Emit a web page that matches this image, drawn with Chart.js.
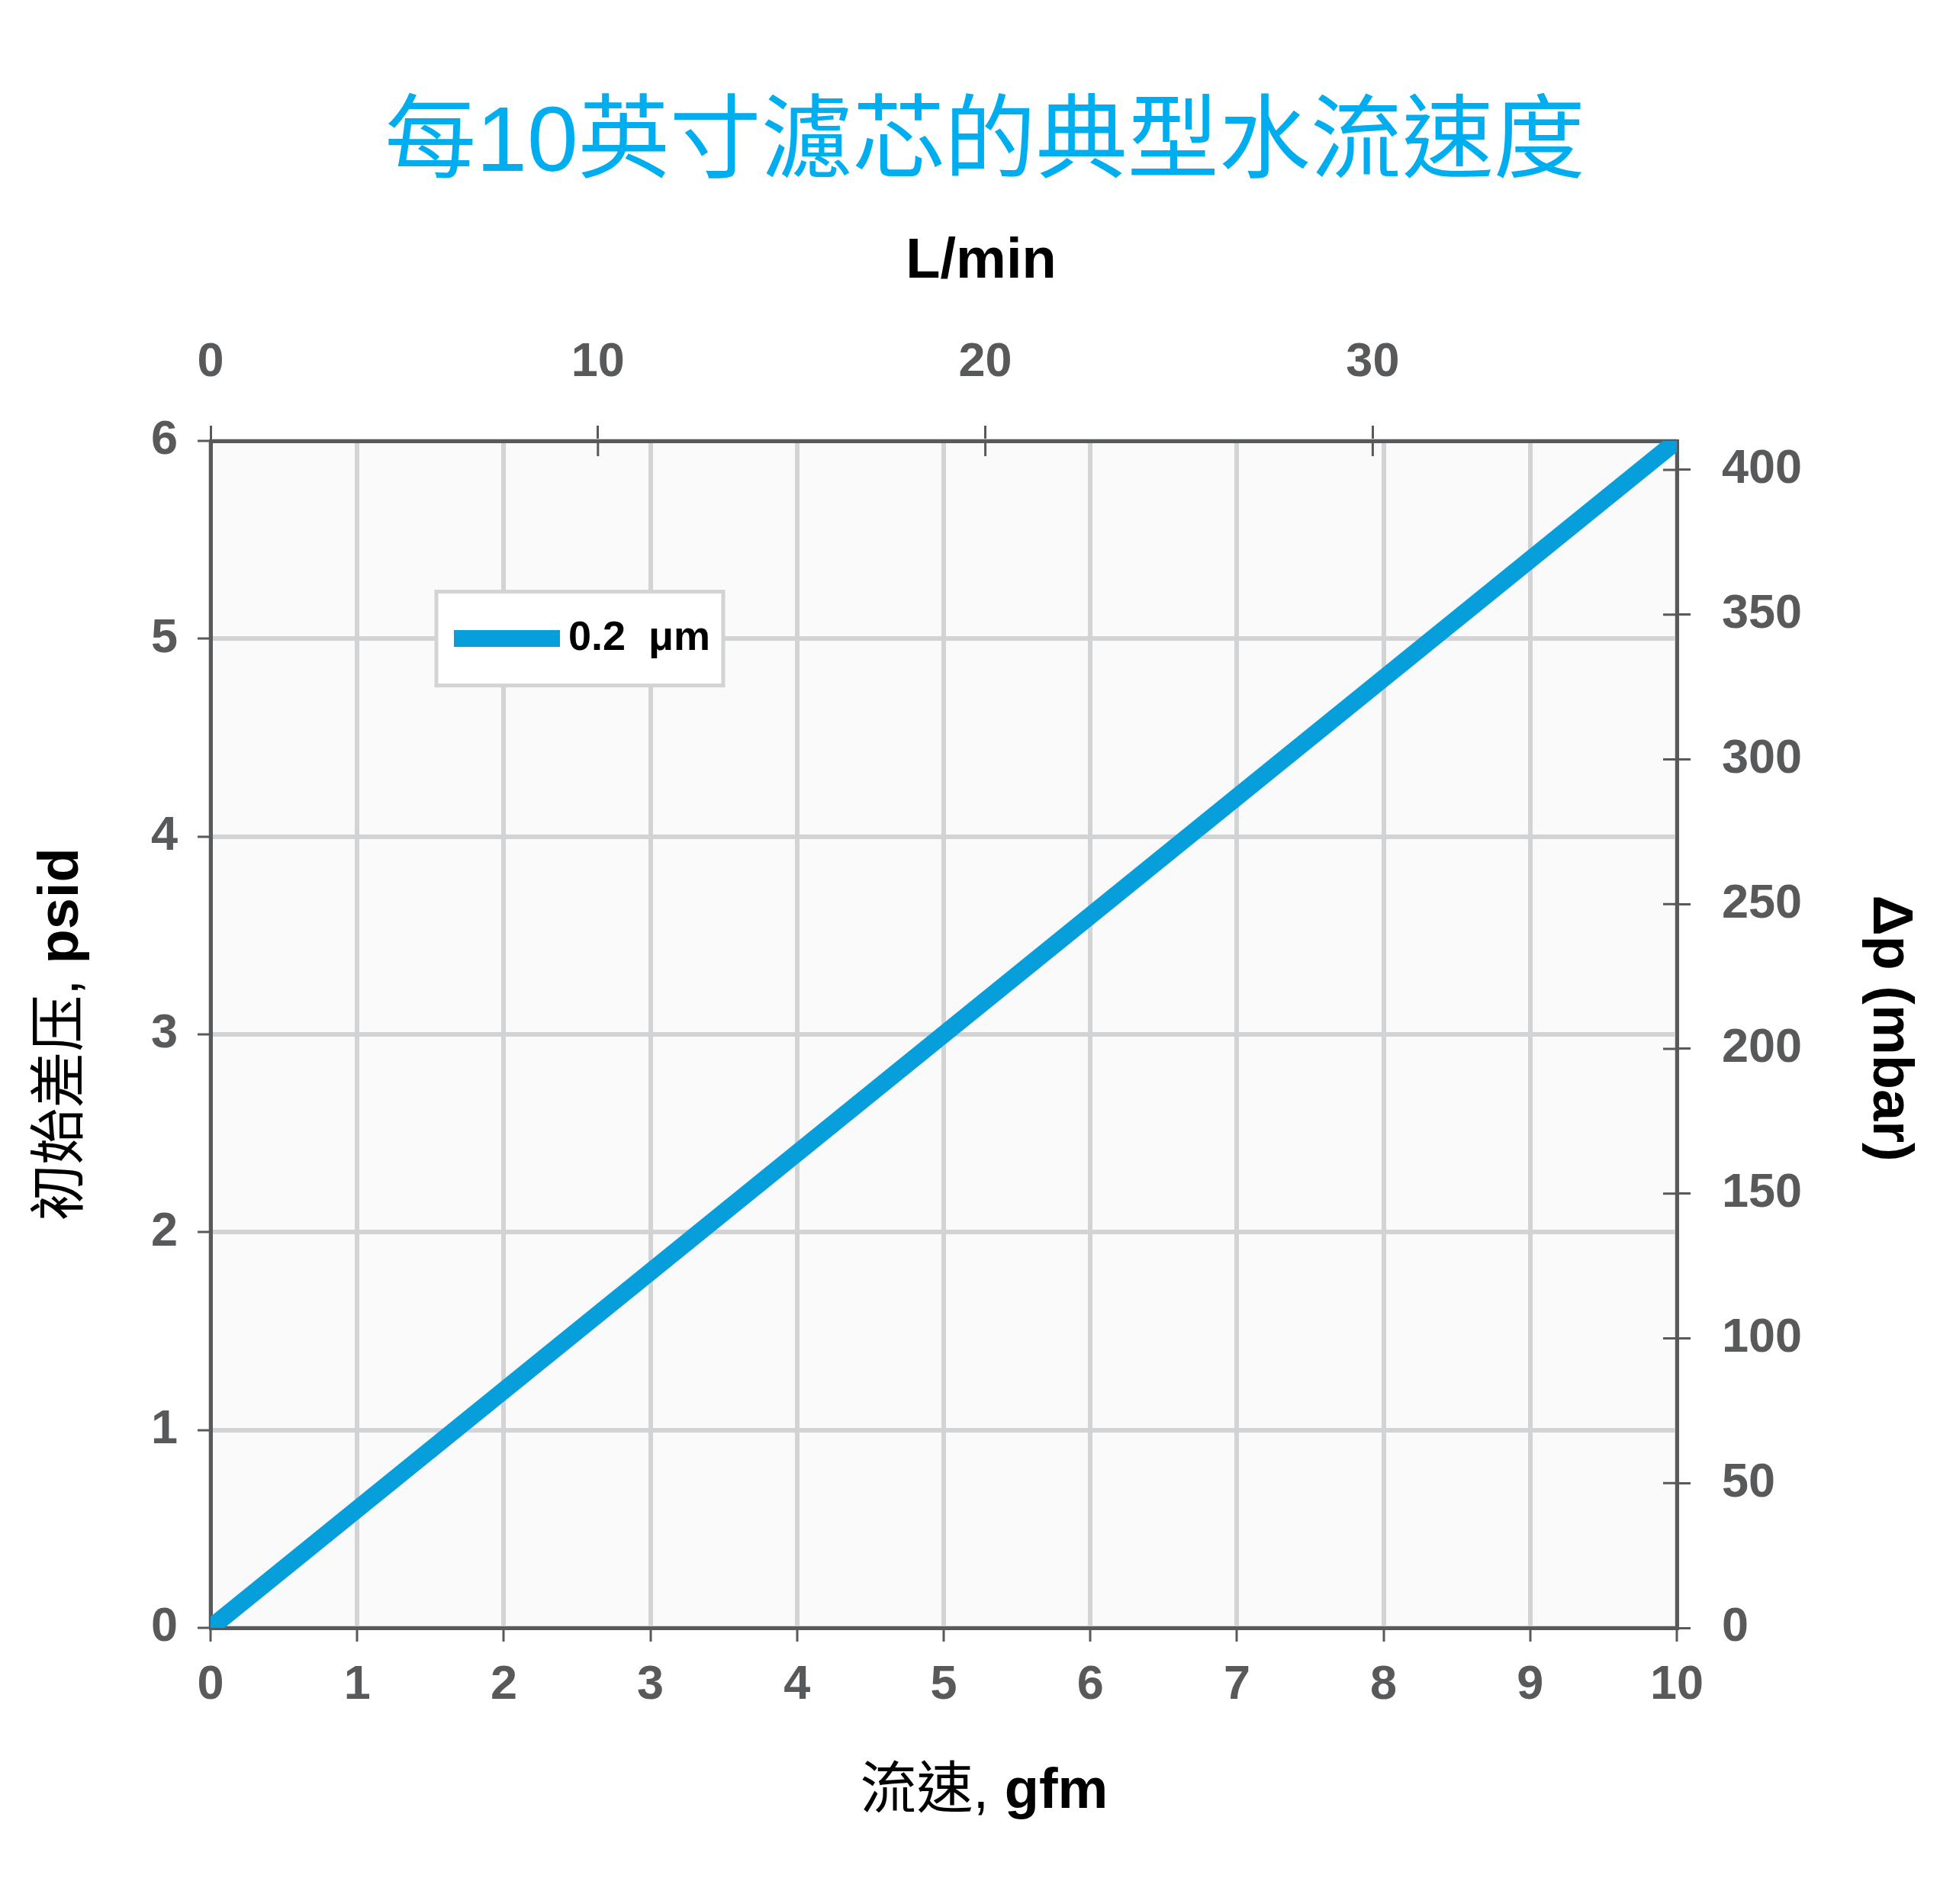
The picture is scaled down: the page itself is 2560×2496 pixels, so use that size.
<!DOCTYPE html>
<html>
<head>
<meta charset="utf-8">
<title>每10英寸濾芯的典型水流速度</title>
<script src="https://cdn.jsdelivr.net/npm/chart.js@4.4.1/dist/chart.umd.min.js"></script>
<style>
  html, body { margin: 0; padding: 0; background: #fff; }
  #wrap { width: 2560px; height: 2496px; }
</style>
</head>
<body>
<div id="wrap"><canvas id="chart"></canvas></div>
<script>
// data
const flowGfm = [0, 10];
const pressurePsid = [0, 6];
const seriesLabel = "0.2  μm";

// axis ticks
const gfmTicks = [0, 1, 2, 3, 4, 5, 6, 7, 8, 9, 10];
const psidTicks = [0, 1, 2, 3, 4, 5, 6];
const lpmTicks = [0, 10, 20, 30];
const mbarTicks = [0, 50, 100, 150, 200, 250, 300, 350, 400];
const lpmMax = 37.85;  // 10 gfm in L/min
const mbarMax = 410;   // right axis value at 6 psid, as drawn

const fontFamily = '"Liberation Sans", "Noto Sans CJK TC", Arial, sans-serif';
const gray = "#58595b";
const gridGray = "#d1d3d4";
const blue = "#069fdb";

const tickFont = { family: fontFamily, size: 63, weight: "bold" };

// axis titles: Chinese part regular, units bold
const topTitle = [["L/min", "bold"]];
const bottomTitle = [["流速,", "normal"], [" gfm", "bold"]];
const leftTitle = [["初始差压,", "normal"], [" psid", "bold"]];
const rightTitle = [["Δp (mbar)", "bold"]];

const points = flowGfm.map((x, i) => ({ x: x, y: pressurePsid[i] }));

const setTicks = (values) => (scale) => {
    scale.ticks = values.map(v => ({ value: v }));
};

// light plot background
const plotBackground = {
    id: "plotBackground",
    beforeDraw(chart) {
        const { ctx, chartArea: a } = chart;
        ctx.save();
        ctx.fillStyle = "#fafafa";
        ctx.fillRect(a.left, a.top, a.right - a.left, a.bottom - a.top);
        ctx.restore();
    }
};

// top and right ticks cross the frame
const innerTicks = {
    id: "innerTicks",
    afterDraw(chart) {
        const { ctx } = chart;
        const top = chart.scales.x2;
        const right = chart.scales.y2;
        ctx.save();
        ctx.strokeStyle = gray;
        ctx.lineWidth = 3;
        ctx.beginPath();
        top.ticks.forEach(t => {
            const px = top.getPixelForValue(t.value);
            ctx.moveTo(px, top.bottom);
            ctx.lineTo(px, top.bottom + 20);
        });
        right.ticks.forEach(t => {
            const py = right.getPixelForValue(t.value);
            ctx.moveTo(right.left, py);
            ctx.lineTo(right.left - 18, py);
        });
        ctx.stroke();
        ctx.restore();
    }
};

function drawTitle(ctx, parts, cx, cy, rotation) {
    ctx.save();
    ctx.translate(cx, cy);
    ctx.rotate(rotation);
    ctx.fillStyle = "#000";
    ctx.textBaseline = "middle";
    ctx.textAlign = "left";
    const widths = parts.map(p => {
        ctx.font = p[1] + " 74px " + fontFamily;
        return ctx.measureText(p[0]).width;
    });
    let x = -widths.reduce((s, w) => s + w, 0) / 2;
    parts.forEach((p, i) => {
        ctx.font = p[1] + " 74px " + fontFamily;
        ctx.fillText(p[0], x, 0);
        x += widths[i];
    });
    ctx.restore();
}

const axisTitles = {
    id: "axisTitles",
    afterDraw(chart) {
        const { ctx, chartArea: a } = chart;
        const midY = (a.top + a.bottom) / 2;
        drawTitle(ctx, topTitle, chart.width / 2 + 6, a.top - 234, 0);
        drawTitle(ctx, bottomTitle, chart.width / 2 + 10, a.bottom + 216, 0);
        drawTitle(ctx, leftTitle, a.left - 194, midY, -Math.PI / 2);
        drawTitle(ctx, rightTitle, a.right + 278, midY - 8, Math.PI / 2);
    }
};

// boxed legend inside the plot
const boxLegend = {
    id: "boxLegend",
    afterDraw(chart) {
        const { ctx, chartArea: a } = chart;
        const ds = chart.data.datasets[0];
        const x = a.left + (a.right - a.left) * 0.154;
        const y = a.top + (a.bottom - a.top) * 0.127;
        const w = 376, h = 123;
        ctx.save();
        ctx.fillStyle = "#ffffff";
        ctx.fillRect(x, y, w, h);
        ctx.strokeStyle = gridGray;
        ctx.lineWidth = 5;
        ctx.strokeRect(x, y, w, h);
        ctx.strokeStyle = ds.borderColor;
        ctx.lineWidth = 22;
        ctx.beginPath();
        ctx.moveTo(x + 23, y + h / 2);
        ctx.lineTo(x + 162, y + h / 2);
        ctx.stroke();
        ctx.fillStyle = "#000";
        ctx.font = "bold 54px " + fontFamily;
        ctx.textBaseline = "middle";
        ctx.fillText(ds.label, x + 173, y + h / 2);
        ctx.restore();
    }
};

new Chart(document.getElementById("chart"), {
    type: "line",
    data: {
        datasets: [{
            label: seriesLabel,
            data: points,
            borderColor: blue,
            backgroundColor: blue,
            borderWidth: 23,
            borderCapStyle: "butt",
            pointRadius: 0,
            tension: 0,
            clip: 0
        }]
    },
    options: {
        responsive: true,
        maintainAspectRatio: false,
        animation: false,
        layout: { padding: { left: 22 } },
        plugins: {
            legend: { display: false },
            tooltip: { enabled: false },
            title: {
                display: true,
                text: "每10英寸濾芯的典型水流速度",
                color: "#00aeef",
                font: { family: fontFamily, size: 120, weight: "normal", lineHeight: 1.2 },
                padding: { top: 119, bottom: 0 }
            }
        },
        scales: {
            x: {
                type: "linear",
                position: "bottom",
                min: 0,
                max: 10,
                afterBuildTicks: setTicks(gfmTicks),
                afterFit: s => { s.height = 362; },
                ticks: { color: gray, font: tickFont, padding: 20, maxRotation: 0 },
                grid: { color: gridGray, lineWidth: 6, tickColor: gray, tickWidth: 3, tickLength: 18 },
                border: { color: gray, width: 5 }
            },
            x2: {
                type: "linear",
                position: "top",
                min: 0,
                max: lpmMax,
                afterBuildTicks: setTicks(lpmTicks),
                afterFit: s => { s.height = 315; },
                ticks: { color: gray, font: tickFont, padding: 45, maxRotation: 0 },
                grid: { drawOnChartArea: false, tickColor: gray, tickWidth: 3, tickLength: 20 },
                border: { color: gray, width: 5 }
            },
            y: {
                type: "linear",
                position: "left",
                min: 0,
                max: 6,
                afterBuildTicks: setTicks(psidTicks),
                afterFit: s => { s.width = 254; },
                ticks: { color: gray, font: tickFont, padding: 26 },
                grid: { color: gridGray, lineWidth: 6, tickColor: gray, tickWidth: 3, tickLength: 17 },
                border: { color: gray, width: 5 }
            },
            y2: {
                type: "linear",
                position: "right",
                min: 0,
                max: mbarMax,
                afterBuildTicks: setTicks(mbarTicks),
                afterFit: s => { s.width = 362; },
                ticks: { color: gray, font: tickFont, padding: 41 },
                grid: { drawOnChartArea: false, tickColor: gray, tickWidth: 3, tickLength: 18 },
                border: { color: gray, width: 5 }
            }
        }
    },
    plugins: [plotBackground, innerTicks, axisTitles, boxLegend]
});
</script>
</body>
</html>
